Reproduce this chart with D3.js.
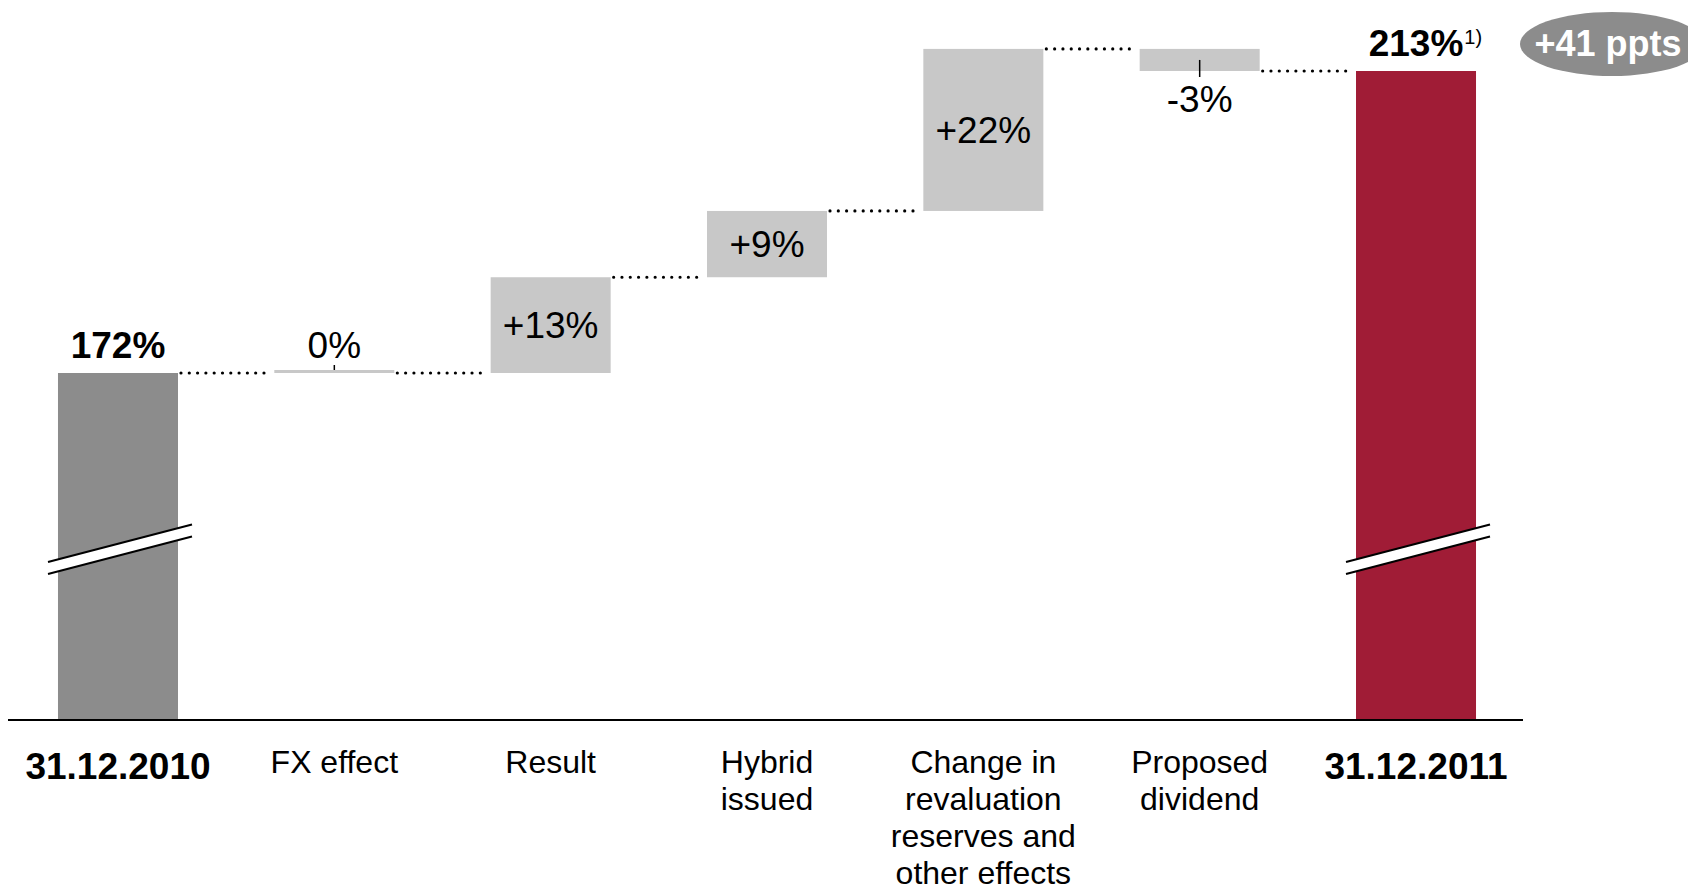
<!DOCTYPE html>
<html>
<head>
<meta charset="utf-8">
<script src="https://cdn.jsdelivr.net/npm/d3@7"></script>
<style>
  html, body { margin: 0; padding: 0; background: #fff; }
  svg { display: block; font-family: "Liberation Sans", Arial, sans-serif; }
</style>
</head>
<body>
<svg id="chart" width="1688" height="891"></svg>
<script>
// Solvency ratio bridge, 31.12.2010 -> 31.12.2011
const categories = ["31.12.2010", "FX effect", "Result", "Hybrid issued",
  "Change in revaluation reserves and other effects", "Proposed dividend", "31.12.2011"];
const categoryLines = [["31.12.2010"], ["FX effect"], ["Result"], ["Hybrid", "issued"],
  ["Change in", "revaluation", "reserves and", "other effects"], ["Proposed", "dividend"], ["31.12.2011"]];
const kinds = ["total", "delta", "delta", "delta", "delta", "delta", "total"];
const values = [172, 0, 13, 9, 22, -3, 213];
const valueLabels = ["172%", "0%", "+13%", "+9%", "+22%", "-3%", "213%"];
const changeLabel = "+41 ppts";
const footnoteMark = "1)";

const svg = d3.select("#chart");

const baselineY = 720;
const x = d3.scaleBand().domain(categories).range([3.9, 1530.1]).paddingInner(0.4453).paddingOuter(0.25);
const y = d3.scaleLinear().domain([172, 213]).range([373, 71]);

// running levels for the waterfall
let level = 0;
const bars = values.map((v, i) => {
  let y0, y1;
  if (kinds[i] === "total") { y0 = null; y1 = v; level = v; }
  else { y0 = level; y1 = level + v; level = y1; }
  return { cat: categories[i], kind: kinds[i], v, y0, y1, i };
});

const fillFor = d => d.kind === "delta" ? "#c8c8c8" : (d.i === 0 ? "#8c8c8c" : "#a01c36");

// bars
svg.append("g").selectAll("rect").data(bars).join("rect")
  .attr("x", d => x(d.cat))
  .attr("width", x.bandwidth())
  .attr("y", d => d.kind === "total" ? y(d.y1) : Math.min(y(d.y0), y(d.y1)) - (d.v === 0 ? 3 : 0))
  .attr("height", d => d.kind === "total" ? baselineY - y(d.y1)
        : Math.max(Math.abs(y(d.y0) - y(d.y1)), 3))
  .attr("fill", fillFor);

// axis-break marks across the total bars
const breakG = svg.append("g");
bars.filter(d => d.kind === "total").forEach(d => {
  const x0 = x(d.cat) - 10, x1 = x(d.cat) + x.bandwidth() + 14;
  const ya = 562, yb = 524.5, gap = 12;
  breakG.append("path")
    .attr("d", `M${x0},${ya}L${x1},${yb}L${x1},${yb + gap}L${x0},${ya + gap}Z`)
    .attr("fill", "#fff");
  [0, gap].forEach(o => breakG.append("line")
    .attr("x1", x0).attr("y1", ya + o).attr("x2", x1).attr("y2", yb + o)
    .attr("stroke", "#000").attr("stroke-width", 2));
});

// dotted connectors between consecutive bars
const conn = svg.append("g");
for (let i = 0; i < bars.length - 1; i++) {
  const lvl = bars[i].y1;
  const xa = x(bars[i].cat) + x.bandwidth() + 3;
  const xb = x(bars[i + 1].cat) - 3;
  conn.append("line")
    .attr("x1", xa).attr("x2", xb).attr("y1", y(lvl)).attr("y2", y(lvl))
    .attr("stroke", "#000").attr("stroke-width", 3.2)
    .attr("stroke-linecap", "round").attr("stroke-dasharray", "0,8.3");
}

// baseline
svg.append("line").attr("x1", 8).attr("x2", 1523).attr("y1", baselineY).attr("y2", baselineY)
  .attr("stroke", "#000").attr("stroke-width", 2);

// value labels
const lab = svg.append("g").attr("text-anchor", "middle").attr("fill", "#000");
let closingLabel = null;
bars.forEach((d, i) => {
  const cx = x(d.cat) + x.bandwidth() / 2;
  if (d.kind === "total") {
    const t = lab.append("text").attr("x", cx).attr("y", y(d.y1) - 15)
      .attr("font-size", 37).attr("font-weight", "bold").text(valueLabels[i]);
    if (i === bars.length - 1) closingLabel = t;
  } else if (d.v === 0) {
    const top = y(d.y1) - 3;
    lab.append("line").attr("x1", cx).attr("x2", cx).attr("y1", top).attr("y2", top - 5)
      .attr("stroke", "#000").attr("stroke-width", 1.5);
    lab.append("text").attr("x", cx).attr("y", top - 12).attr("font-size", 37).text(valueLabels[i]);
  } else if (d.v < 0) {
    const mid = (y(d.y0) + y(d.y1)) / 2;
    const bottom = y(d.y1);
    lab.append("line").attr("x1", cx).attr("x2", cx).attr("y1", mid).attr("y2", bottom + 6)
      .attr("stroke", "#000").attr("stroke-width", 1.5);
    lab.append("text").attr("x", cx).attr("y", bottom + 41).attr("font-size", 37).text(valueLabels[i]);
  } else {
    const mid = (y(d.y0) + y(d.y1)) / 2;
    lab.append("text").attr("x", cx).attr("y", mid + 13).attr("font-size", 37).text(valueLabels[i]);
  }
});

// footnote marker right after the closing total label
const last = bars[bars.length - 1];
const bb = closingLabel.node().getBBox();
svg.append("text")
  .attr("x", bb.x + bb.width + 1).attr("y", y(last.y1) - 27)
  .attr("font-size", 20).attr("fill", "#000").text(footnoteMark);

// total change bubble
const bubble = svg.append("g");
bubble.append("ellipse").attr("cx", 1612).attr("cy", 44).attr("rx", 92).attr("ry", 32).attr("fill", "#8c8c8c");
bubble.append("text").attr("x", 1608).attr("y", 56).attr("text-anchor", "middle")
  .attr("font-size", 36).attr("font-weight", "bold").attr("fill", "#fff").text(changeLabel);

// category labels
const cat = svg.append("g").attr("text-anchor", "middle").attr("fill", "#000");
bars.forEach((d, i) => {
  const cx = x(d.cat) + x.bandwidth() / 2;
  const bold = d.kind === "total";
  const t = cat.append("text")
    .attr("font-size", bold ? 37 : 32)
    .attr("font-weight", bold ? "bold" : "normal");
  categoryLines[i].forEach((ln, k) => {
    t.append("tspan").attr("x", cx).attr("y", (bold ? 779 : 773) + k * 37).text(ln);
  });
});
</script>
</body>
</html>
